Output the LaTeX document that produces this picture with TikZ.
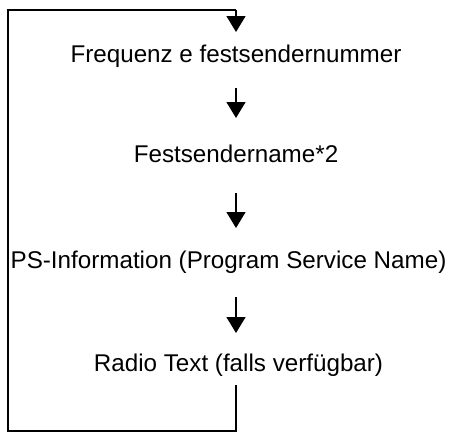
\documentclass[tikz,border=0pt]{standalone}
\usepackage{fontspec}
\setmainfont{Liberation Sans}
\usetikzlibrary{arrows.meta}
\begin{document}
\begin{tikzpicture}[x=1pt,y=-1pt,
  lbl/.style={anchor=base,inner sep=0pt,font=\fontsize{24.2}{26}\selectfont},
  flow/.style={line width=1.4pt,-{Triangle[width=19pt,length=16pt]}},
  loop/.style={line width=1.4pt}]
\useasboundingbox (0,0) rectangle (454,434);
\node[lbl] (t1) at (236,62) {Frequenz e festsendernummer};
\node[lbl] (t2) at (236,162) {Festsendername*2};
\node[lbl] (t3) at (228.5,268) {PS-Information (Program Service Name)};
\node[lbl] (t4) at (238.5,371.5) {Radio Text (falls verfügbar)};
\coordinate (s1) at (236,88);
\coordinate (e1) at (236,118);
\coordinate (s2) at (236,193);
\coordinate (e2) at (236,228);
\coordinate (s3) at (236,297);
\coordinate (e3) at (236,333);
\coordinate (b0) at (236,385);
\coordinate (b1) at (236,431);
\coordinate (b2) at (8,431);
\coordinate (b3) at (8,10);
\coordinate (b4) at (236,10);
\coordinate (e0) at (236,32);
\draw[flow] (s1) -- (e1);
\draw[flow] (s2) -- (e2);
\draw[flow] (s3) -- (e3);
\draw[loop] (b0) -- (b1) -- (b2) -- (b3) -- (b4);
\draw[flow] (b4) -- (e0);
\end{tikzpicture}
\end{document}
